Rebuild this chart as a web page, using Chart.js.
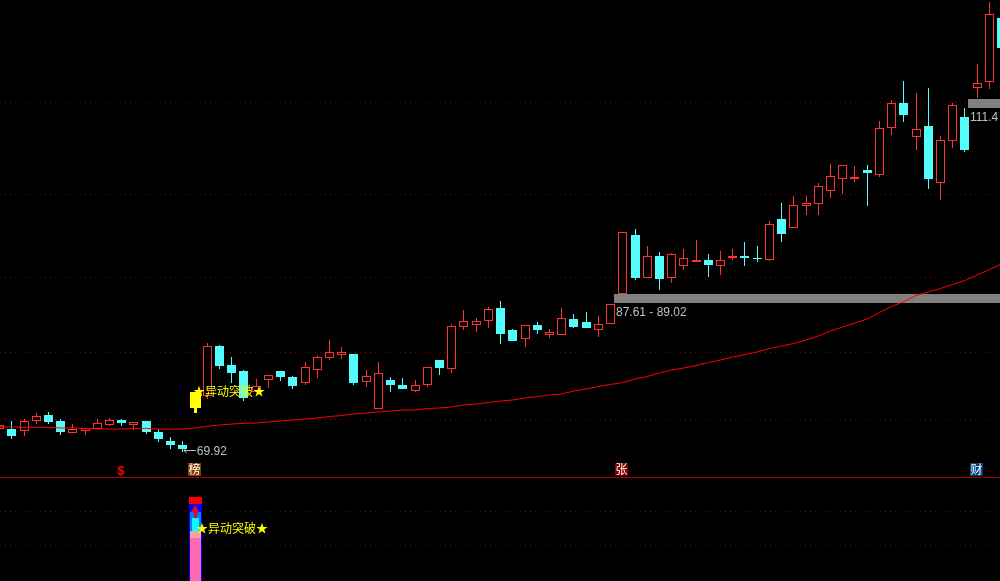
<!DOCTYPE html>
<html>
<head>
<meta charset="utf-8">
<title>K线</title>
<script src="https://cdn.jsdelivr.net/npm/chart.js@4/dist/chart.umd.js"></script>
<style>
  html, body { margin: 0; padding: 0; background: #000; overflow: hidden; }
  canvas { display: block; }
  #divider { height: 1px; background: #a80000; }
</style>
</head>
<body>
<canvas id="mainChart" width="1000" height="477"></canvas>
<div id="divider"></div>
<canvas id="subChart" width="1000" height="103"></canvas>
<script>
// candle values, index 16 is covered by the yellow signal bar
const opens = [
  72.64, 72.64, 72.40, 73.60, 74.32, 73.60, 72.16, 72.40, 72.64, 73.12,
  73.72, 73.12, 73.60, 72.28, 71.20, 70.72, null, 76.60, 82.60, 80.32,
  79.60, 77.08, 78.52, 79.60, 78.88, 78.16, 79.72, 81.16, 81.52, 81.64,
  78.28, 75.04, 78.52, 77.92, 77.20, 77.92, 80.92, 79.84, 84.88, 85.12,
  85.60, 87.16, 84.52, 83.44, 85.12, 83.92, 83.92, 85.84, 85.48, 84.52,
  85.24, 88.84, 95.92, 90.76, 93.40, 90.76, 92.20, 92.68, 92.92, 92.20,
  93.16, 93.40, 93.16, 92.92, 97.84, 96.76, 99.40, 99.64, 101.20, 102.64,
  102.64, 103.72, 103.12, 108.76, 111.76, 107.68, 109.00, 102.16, 107.20, 110.08,
  113.56, 114.28, 121.96
];
const closes = [
  73.12, 71.80, 73.60, 74.20, 73.48, 72.28, 72.64, 72.76, 73.36, 73.72,
  73.36, 73.48, 72.28, 71.44, 70.72, 70.24, null, 82.60, 80.20, 79.36,
  76.36, 77.80, 79.12, 78.88, 77.80, 80.08, 81.28, 81.88, 81.88, 78.16,
  79.00, 79.36, 77.92, 77.44, 77.92, 80.08, 79.96, 85.00, 85.60, 85.60,
  87.04, 84.04, 83.20, 85.12, 84.52, 84.28, 85.96, 84.88, 84.76, 85.24,
  87.64, 96.28, 90.76, 93.40, 90.64, 93.64, 93.16, 92.92, 92.32, 92.92,
  93.40, 93.16, 93.04, 97.24, 96.04, 99.52, 99.76, 101.80, 103.00, 104.32,
  102.88, 103.36, 108.76, 111.76, 110.32, 108.64, 102.64, 107.32, 111.52, 106.12,
  114.16, 122.44, 118.36
];
const highs = [
  73.12, 73.60, 73.84, 74.56, 74.68, 73.84, 73.24, 72.76, 73.84, 73.96,
  73.84, 73.48, 73.60, 72.64, 71.68, 71.20, null, 82.96, 82.72, 81.28,
  79.72, 78.64, 79.12, 79.60, 79.00, 80.68, 81.40, 83.32, 82.48, 81.64,
  79.72, 80.68, 78.88, 78.76, 78.52, 80.08, 80.92, 85.24, 86.92, 85.96,
  87.28, 88.00, 84.64, 85.12, 85.48, 84.64, 87.16, 86.44, 86.68, 86.20,
  87.64, 96.28, 96.64, 94.60, 93.88, 93.76, 94.24, 95.32, 93.64, 94.00,
  94.24, 95.08, 94.60, 97.60, 99.76, 100.60, 100.60, 102.16, 104.44, 104.32,
  104.20, 104.32, 109.60, 112.12, 114.40, 112.96, 113.56, 107.80, 111.76, 111.16,
  116.44, 123.88, 123.52
];
const lows = [
  72.64, 71.44, 71.80, 73.24, 73.24, 71.92, 72.16, 71.92, 72.64, 73.00,
  73.00, 72.52, 72.04, 71.08, 70.24, 69.92, null, 76.24, 79.84, 78.16,
  76.00, 77.08, 77.56, 78.40, 77.44, 77.92, 78.76, 80.92, 81.04, 77.92,
  77.68, 75.04, 77.08, 77.44, 77.08, 77.68, 79.12, 79.36, 84.52, 84.28,
  84.76, 82.84, 83.20, 82.48, 84.04, 83.56, 83.92, 84.76, 84.76, 83.68,
  85.24, 88.84, 90.52, 90.76, 89.32, 90.16, 91.72, 92.68, 90.88, 91.12,
  92.92, 92.20, 92.68, 92.80, 95.08, 96.76, 98.32, 98.32, 100.36, 100.84,
  102.28, 99.40, 102.88, 107.92, 109.48, 106.12, 101.44, 100.12, 106.36, 105.88,
  112.36, 113.44, 117.52
];
const maLine = [
  72.92, 72.88, 72.84, 72.84, 72.84, 72.76, 72.76, 72.72, 72.64, 72.64,
  72.64, 72.70, 72.72, 72.64, 72.60, 72.64, 72.76, 72.96, 73.12, 73.24,
  73.32, 73.36, 73.48, 73.60, 73.72, 73.84, 73.96, 74.14, 74.26, 74.44,
  74.56, 74.68, 74.80, 74.92, 74.92, 75.10, 75.16, 75.28, 75.52, 75.64,
  75.82, 76.00, 76.12, 76.36, 76.54, 76.72, 76.84, 77.20, 77.44, 77.74,
  77.98, 78.22, 78.64, 78.94, 79.36, 79.72, 79.96, 80.26, 80.62, 80.92,
  81.28, 81.58, 81.88, 82.29, 82.60, 82.90, 83.32, 83.80, 84.40, 84.88,
  85.36, 85.84, 86.62, 87.34, 87.94, 88.66, 89.08, 89.50, 89.98, 90.46,
  91.12, 91.78, 92.44
];
const gridPrices = [73.72, 81.88, 90.88, 100.84, 111.88];
const priceRange = [66.88, 124.12];
const indexRange = [0.036, 81.869];

// signal bar on the main panel
const signalIndex = 16;
const signalBody = [75.16, 77.08];
const signalTail = [74.56, 75.16];

// support bands: price level and the candle index they start from
const bandLevels = [88.30, 111.70];
const bandStarts = [50.28, 79.25];
const bandLabels = ['87.61 - 89.02', '111.4'];
const lowLabel = '69.92';
const lowIndex = 15;

const signalText = '★异动突破★';
const badgeIndexes = [16, 51, 80];
const badgeTexts = ['榜', '张', '财'];
const badgeColors = ['#804000', '#800000', '#004080'];

// lower panel stack, all drawn at signalIndex
const subRange = [0, 103];
const subGrid = [36, 69.5];
const subOuter = [0, 77];
const subTop = [77, 84];
const subUpper = [50, 69];
const subInner = [50, 63];
const subMid = [43, 50];
const subLower = [0, 43];
const subShaft = [63, 72];
const subArrow = 71;
const subTextLevel = 53;

const RED = '#ff3232';
const CYAN = '#54fcfc';
const GRAY = '#c0c0c0';
const CJK = '"Noto Sans CJK SC", sans-serif';

const isUp = i => closes[i] >= opens[i];
const indexes = opens.map((_, i) => i).filter(i => opens[i] !== null);

// the source is a pixel terminal, so keep the bars on whole pixels
const snapBars = {
  id: 'snapBars',
  beforeDatasetsDraw(chart) {
    chart.data.datasets.forEach((ds, d) => {
      if (ds.type !== 'bar') return;
      chart.getDatasetMeta(d).data.forEach(el => {
        el.x = Math.floor(el.x) + 0.5;
        el.y = Math.round(el.y);
        el.base = Math.round(el.base);
      });
    });
  }
};

const floatBar = (points, color, thickness, order, extra) => Object.assign({
  type: 'bar',
  data: points,
  backgroundColor: color,
  borderWidth: 0,
  barThickness: thickness,
  grouped: false,
  inflateAmount: 0,
  order: order
}, extra);

const hLine = (level, start, end, color, width, order) => ({
  type: 'line',
  data: [{ x: start, y: level }, { x: end, y: level }],
  borderColor: color,
  borderWidth: width,
  pointRadius: 0,
  borderCapStyle: 'butt',
  order: order
});

const scalesFor = (range, gridValues) => ({
  x: { type: 'linear', display: false, offset: false, min: indexRange[0], max: indexRange[1] },
  y: {
    min: range[0],
    max: range[1],
    ticks: { display: false },
    grid: { color: '#800000', lineWidth: 1, drawTicks: false, tickLength: 0 },
    border: { display: false, dash: [1, 4] },
    afterBuildTicks: scale => { scale.ticks = gridValues.map(v => ({ value: v })); }
  }
});

const baseOptions = (range, gridValues) => ({
  responsive: false,
  animation: false,
  layout: { padding: 0, autoPadding: false },
  plugins: { legend: { display: false }, tooltip: { enabled: false } },
  scales: scalesFor(range, gridValues)
});

const mainLabels = {
  id: 'mainLabels',
  afterDatasetsDraw(chart) {
    const { ctx, scales: { x, y } } = chart;
    ctx.save();
    ctx.textBaseline = 'middle';

    ctx.font = '12px ' + CJK;
    ctx.fillStyle = '#ffff00';
    ctx.fillText(signalText, x.getPixelForValue(signalIndex) - 2, 391);

    ctx.font = '12px "Liberation Sans", sans-serif';
    ctx.fillStyle = GRAY;
    bandLabels.forEach((text, i) => {
      const px = x.getPixelForValue(bandStarts[i]) + 2;
      ctx.fillText(text, px, y.getPixelForValue(bandLevels[i]) + 14.5);
    });

    const lowX = x.getPixelForValue(lowIndex);
    const lowY = Math.round(y.getPixelForValue(lows[lowIndex])) - 2;
    ctx.fillText(lowLabel, lowX + 14, lowY + 2);
    ctx.strokeStyle = GRAY;
    ctx.lineWidth = 1;
    ctx.beginPath();
    ctx.moveTo(lowX + 1, lowY + 0.5);
    ctx.lineTo(lowX + 13, lowY + 0.5);
    ctx.moveTo(lowX + 4, lowY - 2);
    ctx.lineTo(lowX + 1, lowY + 0.5);
    ctx.lineTo(lowX + 4, lowY + 3);
    ctx.stroke();

    ctx.textAlign = 'center';
    ctx.font = '12px ' + CJK;
    badgeIndexes.forEach((idx, i) => {
      const left = Math.floor(x.getPixelForValue(idx)) - 7;
      ctx.fillStyle = badgeColors[i];
      ctx.fillRect(left, 463, 13, 13);
      ctx.fillStyle = '#ffffff';
      ctx.fillText(badgeTexts[i], left + 6.5, 469.5);
    });

    ctx.font = 'bold 13px "Liberation Sans", sans-serif';
    ctx.fillStyle = '#ff0000';
    ctx.fillText('$', x.getPixelForValue(10) - 1, 471);
    ctx.restore();
  }
};

const subLabels = {
  id: 'subLabels',
  afterDatasetsDraw(chart) {
    const { ctx, scales: { x, y } } = chart;
    ctx.save();
    ctx.textBaseline = 'middle';
    ctx.font = '12px ' + CJK;
    ctx.fillStyle = '#ffff00';
    ctx.fillText(signalText, x.getPixelForValue(signalIndex) + 1, y.getPixelForValue(subTextLevel));
    ctx.restore();
  }
};

new Chart(document.getElementById('mainChart'), {
  type: 'bar',
  data: {
    datasets: [
      floatBar(indexes.map(i => ({ x: i, y: [lows[i], highs[i]] })),
        indexes.map(i => isUp(i) ? RED : CYAN), 1, 6),
      floatBar(indexes.map(i => ({ x: i, y: [opens[i], closes[i]] })),
        indexes.map(i => isUp(i) ? '#000000' : CYAN), 9, 5, {
          borderColor: indexes.map(i => isUp(i) ? RED : CYAN),
          borderWidth: 1,
          borderSkipped: false
        }),
      hLine(bandLevels[0], bandStarts[0], indexRange[1], '#808080', 9, 4),
      hLine(bandLevels[1], bandStarts[1], indexRange[1], '#808080', 9, 4),
      {
        type: 'line',
        data: maLine.map((v, i) => ({ x: i, y: v })),
        borderColor: '#ff0000',
        borderWidth: 1,
        pointRadius: 0,
        tension: 0,
        order: 3
      },
      floatBar([{ x: signalIndex, y: signalTail }], '#ffff00', 3, 2),
      floatBar([{ x: signalIndex, y: signalBody }], '#ffff00', 11, 1)
    ]
  },
  options: baseOptions(priceRange, gridPrices),
  plugins: [snapBars, mainLabels]
});

const subPoint = v => [{ x: signalIndex, y: v }];

new Chart(document.getElementById('subChart'), {
  type: 'bar',
  data: {
    datasets: [
      floatBar(subPoint(subOuter), '#0000ff', 13, 8),
      floatBar(subPoint(subTop), '#ff0000', 13, 7),
      floatBar(subPoint(subUpper), '#0080ff', 11, 6),
      floatBar(subPoint(subInner), '#00ffff', 7, 5),
      floatBar(subPoint(subMid), '#ff9f9f', 11, 4),
      floatBar(subPoint(subLower), '#ff69b4', 11, 3),
      floatBar(subPoint(subShaft), '#dc0a28', 3, 2),
      {
        type: 'scatter',
        data: subPoint(subArrow),
        pointStyle: 'triangle',
        pointRadius: 5.2,
        backgroundColor: '#dc0a28',
        borderWidth: 0,
        order: 1
      }
    ]
  },
  options: baseOptions(subRange, subGrid),
  plugins: [snapBars, subLabels]
});
</script>
</body>
</html>
